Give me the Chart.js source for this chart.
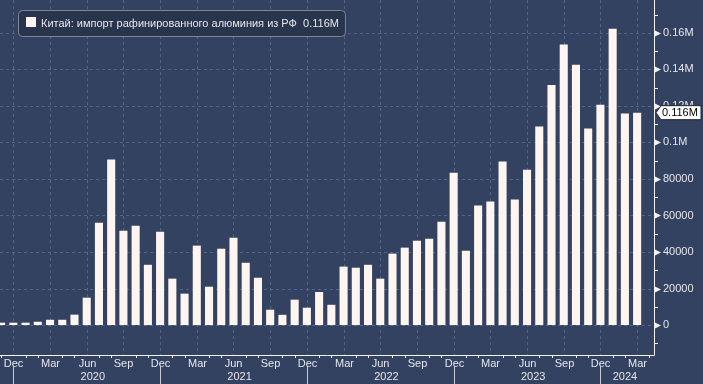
<!DOCTYPE html>
<html>
<head>
<meta charset="utf-8">
<script src="https://cdn.jsdelivr.net/npm/chart.js@4"></script>
<style>
  html, body { margin: 0; padding: 0; background: #334260; }
  #graphique { display: block; }
</style>
</head>
<body>
<canvas id="graphique" width="703" height="384"></canvas>
<script>
// mois de nov. 2019 a mars 2024
const mois = [
  '2019-11', '2019-12',
  '2020-01', '2020-02', '2020-03', '2020-04', '2020-05', '2020-06',
  '2020-07', '2020-08', '2020-09', '2020-10', '2020-11', '2020-12',
  '2021-01', '2021-02', '2021-03', '2021-04', '2021-05', '2021-06',
  '2021-07', '2021-08', '2021-09', '2021-10', '2021-11', '2021-12',
  '2022-01', '2022-02', '2022-03', '2022-04', '2022-05', '2022-06',
  '2022-07', '2022-08', '2022-09', '2022-10', '2022-11', '2022-12',
  '2023-01', '2023-02', '2023-03', '2023-04', '2023-05', '2023-06',
  '2023-07', '2023-08', '2023-09', '2023-10', '2023-11', '2023-12',
  '2024-01', '2024-02', '2024-03'
];
const importRF = [
  1300, 1300,
  1300, 1800, 2900, 2900, 5700, 15000, 56000, 90600, 51700, 54400, 33000, 51100,
  25400, 17200, 43500, 21000, 41800, 47800, 34100, 25900, 8400, 5600, 13900, 9500,
  18100, 11100, 32000, 31400, 33000, 25400, 39100, 42400, 46200, 47300, 56600, 83400,
  40700, 65400, 67600, 89500, 68700, 85100, 108700, 131500, 153600, 142600, 107600, 120700,
  162300, 115800, 116300
];
const nomsMois = ['Jan', 'Feb', 'Mar', 'Apr', 'May', 'Jun', 'Jul', 'Aug', 'Sep', 'Oct', 'Nov', 'Dec'];
const moisAffiches = ['Dec', 'Mar', 'Jun', 'Sep'];
const annees = ['2020', '2021', '2022', '2023', '2024'];
const valeursY = [0, 20000, 40000, 60000, 80000, 100000, 120000, 140000, 160000];
const etiquettesY = ['0', '20000', '40000', '60000', '80000', '0.1M', '0.12M', '0.14M', '0.16M'];
const titreSerie = 'Китай: импорт рафинированного алюминия из РФ';
const derniereEtiquette = '0.116M';

const police = '11px "Liberation Sans", Arial, sans-serif';
const couleurTexte = '#e4e6ec';
const couleurGrille = '#50668a';

function nomDuMois(m) {
  return nomsMois[parseInt(m.split('-')[1], 10) - 1];
}

let decor = {
  id: 'decor',
  beforeDraw(chart) {
    let ctx = chart.ctx;
    ctx.save();
    ctx.fillStyle = '#334260';
    ctx.fillRect(0, 0, chart.width, chart.height);

    let x = chart.scales.x, y = chart.scales.y, zone = chart.chartArea;
    ctx.strokeStyle = couleurGrille;
    ctx.lineWidth = 1;
    ctx.setLineDash([3, 3]);
    valeursY.forEach(v => {
      let py = Math.round(y.getPixelForValue(v)) + 0.5;
      ctx.beginPath(); ctx.moveTo(zone.left, py); ctx.lineTo(zone.right, py); ctx.stroke();
    });
    mois.forEach((m, i) => {
      if (moisAffiches.indexOf(nomDuMois(m)) < 0) return;
      let px = Math.round(x.getPixelForValue(i)) + 0.5;
      ctx.beginPath(); ctx.moveTo(px, zone.top); ctx.lineTo(px, zone.bottom); ctx.stroke();
    });
    ctx.restore();
  },
  afterDraw(chart) {
    let ctx = chart.ctx;
    let x = chart.scales.x, y = chart.scales.y, zone = chart.chartArea;
    ctx.save();
    ctx.setLineDash([]);

    // axes
    ctx.strokeStyle = '#f2f2f2';
    ctx.lineWidth = 1;
    ctx.beginPath();
    ctx.moveTo(zone.right + 0.5, zone.top);
    ctx.lineTo(zone.right + 0.5, zone.bottom + 0.5);
    ctx.lineTo(zone.left, zone.bottom + 0.5);
    ctx.stroke();

    // graduations y
    ctx.fillStyle = '#f2f2f2';
    for (let v = -10000; v <= 170000; v += 10000) {
      let py = Math.round(y.getPixelForValue(v)) + 0.5;
      if (v % 20000 === 0) {
        ctx.beginPath();
        ctx.moveTo(zone.right, py - 3.5);
        ctx.lineTo(zone.right + 7, py);
        ctx.lineTo(zone.right, py + 3.5);
        ctx.closePath();
        ctx.fill();
      } else {
        ctx.beginPath(); ctx.moveTo(zone.right, py); ctx.lineTo(zone.right + 4, py); ctx.stroke();
      }
    }
    ctx.font = police;
    ctx.fillStyle = couleurTexte;
    ctx.textBaseline = 'middle';
    ctx.textAlign = 'left';
    valeursY.forEach((v, k) => {
      ctx.fillText(etiquettesY[k], zone.right + 9, y.getPixelForValue(v));
    });

    // graduations x
    ctx.textAlign = 'center';
    mois.forEach((m, i) => {
      let px = Math.round(x.getPixelForValue(i)) + 0.5;
      let nom = nomDuMois(m);
      if (moisAffiches.indexOf(nom) >= 0) {
        ctx.fillText(nom, px, zone.bottom + 9);
      } else {
        ctx.beginPath(); ctx.moveTo(px, zone.bottom); ctx.lineTo(px, zone.bottom + 3); ctx.stroke();
      }
    });
    let dernierX = x.getPixelForValue(mois.length - 1);
    let px2 = Math.round(dernierX + (x.getPixelForValue(1) - x.getPixelForValue(0))) + 0.5;
    ctx.beginPath(); ctx.moveTo(px2, zone.bottom); ctx.lineTo(px2, zone.bottom + 3); ctx.stroke();

    // annees
    ctx.strokeStyle = '#c8ccd6';
    annees.forEach(a => {
      let idx = [];
      mois.forEach((m, i) => { if (m.startsWith(a)) idx.push(i); });
      let milieu = (x.getPixelForValue(idx[0]) + x.getPixelForValue(idx[idx.length - 1])) / 2;
      ctx.fillText(a, milieu, zone.bottom + 22);
    });
    mois.forEach((m, i) => {
      if (nomDuMois(m) !== 'Dec') return;
      let px = Math.round(x.getPixelForValue(i)) + 0.5;
      ctx.beginPath(); ctx.moveTo(px, zone.bottom + 11); ctx.lineTo(px, chart.height); ctx.stroke();
    });

    // etiquette de la derniere valeur
    let py = y.getPixelForValue(importRF[importRF.length - 1]);
    let gx = zone.right + 2;
    ctx.fillStyle = '#ffffff';
    ctx.strokeStyle = '#222222';
    ctx.beginPath();
    ctx.moveTo(gx, py);
    ctx.lineTo(gx + 5, py - 7);
    ctx.lineTo(gx + 45, py - 7);
    ctx.lineTo(gx + 45, py + 7);
    ctx.lineTo(gx + 5, py + 7);
    ctx.closePath();
    ctx.fill();
    ctx.stroke();
    ctx.fillStyle = '#000000';
    ctx.textAlign = 'left';
    ctx.fillText(derniereEtiquette, gx + 6, py + 0.5);

    // legende
    let texte = titreSerie + '  ' + derniereEtiquette;
    let largeur = ctx.measureText(texte).width;
    ctx.fillStyle = '#29344d';
    ctx.strokeStyle = '#7d8597';
    ctx.beginPath();
    ctx.roundRect(18.5, 10.5, largeur + 29, 26, 4);
    ctx.fill();
    ctx.stroke();
    ctx.fillStyle = '#fff5f0';
    ctx.fillRect(26, 17, 10, 10);
    ctx.fillStyle = couleurTexte;
    ctx.fillText(texte, 41, 23.5);
    ctx.restore();
  }
};

let cvs = document.getElementById('graphique').getContext('2d');
let graphique = new Chart(cvs, {
  type: 'bar',
  data: {
    datasets: [{
      label: titreSerie,
      data: importRF.map((v, i) => ({ x: i, y: v })),
      backgroundColor: '#fff5f0',
      borderWidth: 0,
      categoryPercentage: 1,
      barPercentage: 0.66
    }]
  },
  options: {
    responsive: false,
    animation: false,
    devicePixelRatio: 1,
    layout: { padding: 0 },
    plugins: { legend: { display: false }, tooltip: { enabled: false } },
    scales: {
      x: {
        type: 'linear',
        offset: false,
        min: -0.09,
        max: 53.38,
        grid: { display: false, offset: false },
        border: { display: false },
        ticks: { display: false },
        afterFit(scale) { scale.height = 29; }
      },
      y: {
        position: 'right',
        min: -16400,
        max: 178000,
        grid: { display: false },
        border: { display: false },
        ticks: { display: false },
        afterFit(scale) { scale.width = 49; }
      }
    }
  },
  plugins: [decor]
});
</script>
</body>
</html>
